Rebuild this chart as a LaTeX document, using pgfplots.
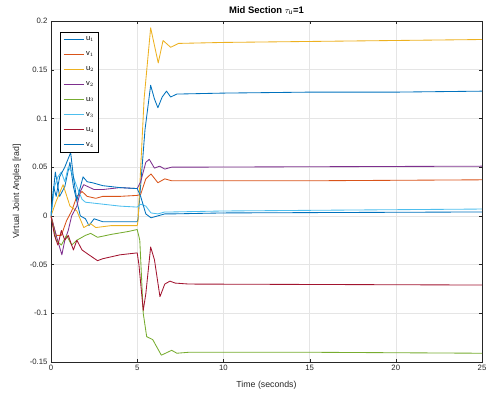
\documentclass[border=0pt]{standalone}
\usepackage{pgfplots}
\pgfplotsset{compat=1.18}
\usepackage{fontspec}
\setmainfont{Liberation Sans}
\definecolor{c1}{HTML}{0072BD}
\definecolor{c2}{HTML}{D95319}
\definecolor{c3}{HTML}{EDB120}
\definecolor{c4}{HTML}{7E2F8E}
\definecolor{c5}{HTML}{77AC30}
\definecolor{c6}{HTML}{4DBEEE}
\definecolor{c7}{HTML}{A2142F}
\definecolor{axc}{HTML}{262626}
\begin{document}
\begin{tikzpicture}
\begin{axis}[
  scale only axis, width=431bp, height=341bp,
  xmin=0, xmax=25, ymin=-0.15, ymax=0.2,
  xtick={0,5,10,15,20,25},
  ytick={-0.15,-0.1,-0.05,0,0.05,0.1,0.15,0.2},
  scaled y ticks=false,
  yticklabel style={/pgf/number format/fixed, /pgf/number format/precision=2},
  /pgf/number format/assume math mode=true,
  tick label style={font=\fontsize{7.8}{9}\selectfont, text=axc},
  label style={font=\fontsize{8.8}{10}\selectfont, text=axc},
  title style={font=\fontsize{9.5}{11}\selectfont\bfseries, yshift=-3bp},
  title={Mid Section $\tau_{\mathrm{u}}$=1},
  xlabel={Time (seconds)},
  ylabel={Virtual Joint Angles [rad]},
  xlabel style={yshift=-3bp},
  ylabel style={yshift=2bp},
  grid=major, major grid style={gray!20, line width=0.5pt},
  axis line style={axc, line width=0.6pt},
  tick style={axc},
  tick align=inside, major tick length=3bp,
  xtick pos=both, ytick pos=both,
  every axis plot/.append style={line width=0.85pt, line join=round},
  legend style={at={(0.022,0.967)}, anchor=north west, draw=black, fill=white,
    font=\fontsize{7.5}{8}\selectfont, row sep=5.6bp, inner sep=2.5bp},
  legend cell align=left,
  legend image code/.code={\draw[mark repeat=2,mark phase=2,#1] plot coordinates {(0bp,0bp) (10bp,0bp) (20bp,0bp)};},
]
% u1
\addplot[c1] coordinates {(0,0) (0.25,0.045) (0.5,0.02) (0.8,0.03) (1.1,0.055) (1.3,0.03) (1.7,0.0) (2.0,-0.003) (2.2,-0.01) (2.5,-0.003) (3,-0.006) (4,-0.006) (5,-0.006) (5.05,-0.003) (5.45,0.088) (5.78,0.134) (6.0,0.12) (6.2,0.111) (6.45,0.122) (6.7,0.128) (6.94,0.122) (7.3,0.125) (10,0.126) (15,0.127) (20,0.127) (25,0.128)};
\addlegendentry{u$_1$}
% v1
\addplot[c2] coordinates {(0,0) (0.3,-0.02) (0.6,-0.02) (0.9,-0.005) (1.2,0.005) (1.5,0.02) (1.8,0.025) (2.1,0.02) (2.6,0.018) (3,0.02) (4,0.02) (5,0.021) (5.2,0.022) (5.5,0.038) (5.8,0.043) (6.2,0.034) (6.6,0.038) (7,0.036) (8,0.036) (15,0.036) (25,0.037)};
\addlegendentry{v$_1$}
% u2
\addplot[c3] coordinates {(0,0) (0.3,0.015) (0.7,0.032) (1.1,0.01) (1.5,0.005) (1.9,-0.012) (2.3,-0.008) (2.6,-0.012) (3.5,-0.01) (5,-0.01) (5.05,-0.005) (5.4,0.12) (5.78,0.193) (6.0,0.175) (6.22,0.157) (6.5,0.18) (6.94,0.173) (7.4,0.177) (10,0.178) (15,0.179) (20,0.18) (25,0.181)};
\addlegendentry{u$_2$}
% v2
\addplot[c4] coordinates {(0,0) (0.3,-0.02) (0.63,-0.04) (0.8,-0.025) (1.0,-0.015) (1.2,0.0) (1.5,0.01) (1.7,0.025) (1.9,0.032) (2.5,0.027) (3,0.027) (4,0.029) (5,0.028) (5.2,0.035) (5.5,0.055) (5.7,0.058) (6.0,0.049) (6.3,0.051) (6.6,0.048) (7,0.05) (8,0.05) (25,0.051)};
\addlegendentry{v$_2$}
% u3
\addplot[c5] coordinates {(0,0) (0.3,-0.025) (0.6,-0.03) (0.9,-0.02) (1.2,-0.03) (1.5,-0.025) (2,-0.02) (2.3,-0.018) (2.7,-0.022) (3.5,-0.019) (4.5,-0.016) (5,-0.014) (5.15,-0.025) (5.35,-0.1) (5.55,-0.124) (5.9,-0.127) (6.4,-0.143) (7.0,-0.138) (7.3,-0.141) (8,-0.14) (15,-0.14) (25,-0.141)};
\addlegendentry{u$_3$}
% v3
\addplot[c6] coordinates {(0,0) (0.2,0.03) (0.4,0.04) (0.6,0.045) (0.8,0.035) (1.0,0.05) (1.2,0.045) (1.5,0.03) (1.8,0.017) (2,0.014) (3,0.012) (4,0.01) (5,0.009) (5.2,0.012) (5.5,0.01) (5.8,0.003) (6.2,0.002) (6.6,0.004) (7,0.004) (10,0.005) (25,0.007)};
\addlegendentry{v$_3$}
% u4
\addplot[c7] coordinates {(0,0) (0.2,-0.02) (0.4,-0.03) (0.6,-0.015) (0.8,-0.025) (1.0,-0.02) (1.3,-0.035) (1.5,-0.025) (1.8,-0.035) (2.2,-0.04) (2.7,-0.046) (3,-0.044) (3.5,-0.042) (4,-0.04) (4.5,-0.039) (5,-0.038) (5.1,-0.05) (5.35,-0.097) (5.5,-0.08) (5.78,-0.032) (6.0,-0.045) (6.32,-0.083) (6.6,-0.07) (6.9,-0.067) (7.2,-0.069) (8,-0.07) (25,-0.071)};
\addlegendentry{u$_4$}
% v4
\addplot[c1] coordinates {(0,0) (0.15,0.03) (0.3,0.02) (0.5,0.04) (0.8,0.05) (1.14,0.065) (1.3,0.04) (1.5,0.016) (1.86,0.04) (2.1,0.035) (2.4,0.034) (3,0.031) (4,0.029) (5,0.028) (5.2,0.02) (5.5,0.002) (5.8,-0.002) (6.2,0.0) (6.6,0.002) (7,0.002) (10,0.003) (25,0.004)};
\addlegendentry{v$_4$}
\end{axis}
\pgfresetboundingbox
\path[use as bounding box] ([xshift=-51bp,yshift=-36bp]current axis.south west) rectangle ([xshift=5bp,yshift=21bp]current axis.north east);
\end{tikzpicture}
\end{document}
